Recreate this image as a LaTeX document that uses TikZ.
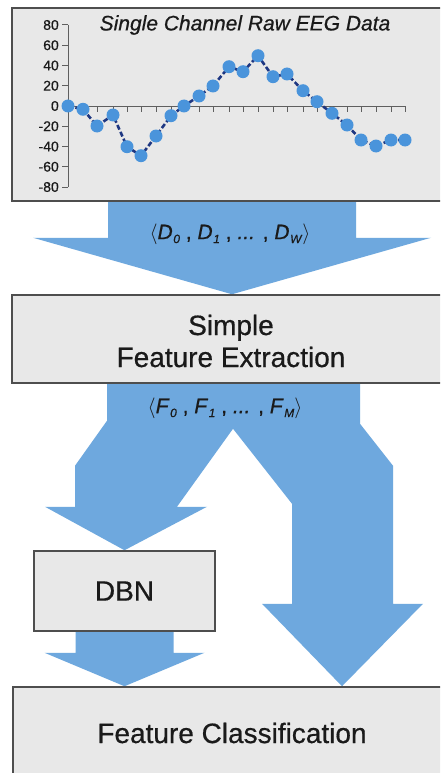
\documentclass[tikz,border=0pt]{standalone}
\usepackage{fontspec}
\setmainfont{Liberation Sans}
% slightly heavier cut of the same face for the printed labels
\newfontfamily\heavysans{Liberation Sans}[FakeBold=0.6]
\usetikzlibrary{calc,backgrounds}

\definecolor{flowblue}{RGB}{110,168,222}
\definecolor{boxfill}{RGB}{232,232,232}
\definecolor{boxline}{RGB}{78,78,78}
\definecolor{ptblue}{RGB}{74,148,219}
\definecolor{navyline}{RGB}{30,55,130}
\definecolor{axisgray}{RGB}{95,95,95}
\definecolor{inkgray}{RGB}{26,26,26}

% italic letter with a small lowered index
\newcommand\idxvar[2]{\textit{#1}\kern0.6pt\raisebox{-0.35ex}{\fontsize{12}{12}\selectfont\textit{#2}}}

\begin{document}
\begin{tikzpicture}[x=1pt,y=-1pt,
  stagebox/.style={draw=boxline, fill=boxfill, line width=1.5pt, inner sep=0pt},
  stagetext/.style={text=inkgray, font=\heavysans\fontsize{28}{32}\selectfont, align=center},
  seqlabel/.style={text=inkgray, font=\heavysans\fontsize{21}{21}\selectfont},
  flow/.style={fill=flowblue},
  axisline/.style={draw=axisgray, line width=1pt},
  ticklabel/.style={text=inkgray, font=\heavysans\fontsize{14}{14}\selectfont, anchor=east, inner sep=0pt},
  datapt/.style={fill=ptblue},
  dataline/.style={draw=navyline, line width=2.6pt, dash pattern=on 5pt off 2.5pt}
]
\clip (0,0) rectangle (440,773);

% ---- stage boxes (right edges run past the page) ----
\node[stagebox, minimum width=440pt, minimum height=193pt] (raw) at (232,104.5) {};
\node[stagebox, minimum width=440pt, minimum height=88pt] (fe) at (232,339) {};
\node[stagetext] (fetext) at (231,341) {Simple\\Feature Extraction};
\node[stagebox, minimum width=181pt, minimum height=80pt] (dbn) at (124.5,591) {};
\node[stagetext] (dbntext) at (dbn.center) {DBN};
\node[stagebox, minimum width=440pt, minimum height=92pt] (fc) at (233,733) {};
\node[stagetext] (fctext) at (232,733) {Feature Classification};

% ---- block arrows, behind the boxes ----
\begin{pgfonlayer}{background}
\fill[white] (0,0) rectangle (440,773);
% raw data -> feature extraction
\fill[flow] ($(raw.south)+(-124,0)$) -- ($(raw.south)+(124,0)$) -- ($(raw.south)+(124,36)$)
  -- ($(raw.south)+(199,36)$) -- (fe.north) -- ($(raw.south)+(-199,36)$)
  -- ($(raw.south)+(-124,36)$) -- cycle;
% feature extraction -> DBN and -> classification (split arrow)
\coordinate (s) at (fe.south);
\coordinate (rx) at ($(s)+(110,0)$);
\coordinate (rtip) at (rx |- fc.north);
\fill[flow] ($(s)+(-125,0)$) -- ($(s)+(128,0)$) -- ($(s)+(128,40)$) -- ($(s)+(161,82)$)
  -- ($(s)+(161,220)$) -- ($(s)+(191,220)$) -- (rtip) -- ($(s)+(30,220)$)
  -- ($(s)+(60,220)$) -- ($(s)+(60,120)$) -- ($(s)+(1,45)$) -- ($(s)+(-55,123)$)
  -- ($(s)+(-25,123)$) -- (dbn.north) -- ($(s)+(-187,123)$) -- ($(s)+(-157,123)$)
  -- ($(s)+(-157,82)$) -- ($(s)+(-125,37)$) -- cycle;
% DBN -> classification
\coordinate (dtip) at (dbn.south |- fc.north);
\fill[flow] ($(dbn.south)+(-49,0)$) -- ($(dbn.south)+(49,0)$) -- ($(dbn.south)+(49,21)$)
  -- ($(dbn.south)+(80,21)$) -- (dtip) -- ($(dbn.south)+(-80,21)$)
  -- ($(dbn.south)+(-49,21)$) -- cycle;
\end{pgfonlayer}

% ---- sequence labels on the arrows ----
\node[seqlabel] (dseq) at (230,234) {$\langle$\idxvar{D}{0} , \idxvar{D}{1} , \textit{...} , \idxvar{D}{W}$\rangle$};
\node[seqlabel] (fseq) at (225,408) {$\langle$\idxvar{F}{0} , \idxvar{F}{1} , \textit{...} , \idxvar{F}{M}$\rangle$};

% ---- EEG plot ----
\node[text=inkgray, font=\heavysans\itshape\fontsize{21}{21}\selectfont] (title) at (245,25) {Single Channel Raw EEG Data};
\draw[axisline] (68,25) -- (68,187);
\foreach \v [count=\i from 0] in {80,60,...,-80} {
  \draw[axisline] (62,25+\i*20.25) -- (68,25+\i*20.25);
  \node[ticklabel] at (59,25+\i*20.25) {\v};
}
\draw[axisline] (68,106.5) -- (406,106.5);
\foreach \x in {83,97,113,127,141,156,171,184,199,213,229,243,258,273,287,303,317,332,347,361,376,391,405}
  \draw[axisline] (\x,106.5) -- (\x,112);
\draw[dataline] plot coordinates {(68,106) (83,109.3) (97,126) (113,115) (127,146.7) (141,155.7)
  (156,136) (171,115.7) (184,106) (199,96) (213,86) (229,66.7) (243,71.7) (258,55.7)
  (273,76.7) (287,74) (303,90.7) (317,101.7) (332,113.3) (347,125) (361,140) (376,146)
  (391,140) (405,140)};
\foreach \x/\y in {68/106,83/109.3,97/126,113/115,127/146.7,141/155.7,156/136,171/115.7,
  184/106,199/96,213/86,229/66.7,243/71.7,258/55.7,273/76.7,287/74,303/90.7,317/101.7,
  332/113.3,347/125,361/140,376/146,391/140,405/140}
  \fill[datapt] (\x,\y) circle (6.5);
\end{tikzpicture}
\end{document}
